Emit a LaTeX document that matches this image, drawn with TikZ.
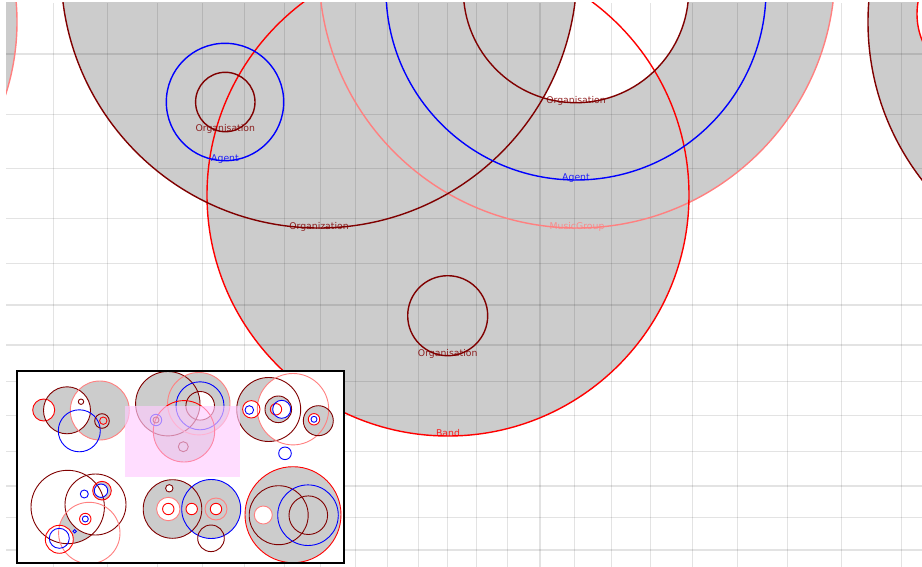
\documentclass[tikz,border=0pt]{standalone}
\usepackage{fontspec}
\setmainfont{DejaVu Sans}
\definecolor{dred}{RGB}{128,0,0}
\definecolor{pinkc}{RGB}{255,128,128}
\definecolor{redc}{RGB}{255,0,0}
\definecolor{bluec}{RGB}{0,0,255}
\definecolor{fillg}{RGB}{204,204,204}
\definecolor{viewc}{RGB}{255,204,255}
\tikzset{
  mline/.style={line width=1.4pt},
  iline/.style={line width=0.9pt},
  gridline/.style={draw=black, draw opacity=0.11, line width=1.3pt},
  lbl/.style={anchor=base, inner sep=0pt, font=\fontsize{9.3}{10}\selectfont, text opacity=0.85},
}
\begin{document}
\begin{tikzpicture}[x=1pt,y=-1pt]
\useasboundingbox (0,0) rectangle (922,567);
% ---------------- main view ----------------
\begin{scope}
\clip (6,3) rectangle (922,567);
% fills
\fill[fillg] (-219,22) circle[radius=236pt];
\fill[fillg] (577,-30) circle[radius=258pt];
\fill[fillg] (448,195) circle[radius=241pt];
\fill[white] (576,-10) circle[radius=112.7pt];
\fill[fillg] (319,-30) circle[radius=258pt];
\fill[fillg] (1126,22) circle[radius=258pt];
\fill[white] (987,14) circle[radius=70pt];
% grid
\foreach \gx in {53.3,107.3,157.3,202.7,244.5,284.2,320.7,355.3,387.3,418.3,447.5,476.7,507.5,540,574.5,611.7,650.5,692.3,737.5,787.3,841.6,901.5}
  \draw[gridline] (\gx,3) -- (\gx,567);
\foreach \gy in {54,114.3,168.3,218.3,263.3,305,345,381.7,415.7,451.6,486.1,517.6,549.9}
  \draw[gridline] (6,\gy) -- (922,\gy);
% strokes
\draw[mline, pinkc] (-219,22) circle[radius=236pt];
\draw[mline, pinkc] (577,-30) circle[radius=258pt];
\draw[mline, redc] (448,195) circle[radius=241pt];
\draw[mline, dred] (319,-30) circle[radius=258pt];
\draw[mline, bluec] (576,-10) circle[radius=190pt];
\draw[mline, dred] (576,-10) circle[radius=112.7pt];
\draw[mline, dred] (447.7,315.7) circle[radius=40pt];
\draw[mline, bluec] (225,102) circle[radius=58.7pt];
\draw[mline, dred] (225.3,102) circle[radius=29.7pt];
\draw[mline, dred] (1126,22) circle[radius=258pt];
\draw[mline, redc] (987,14) circle[radius=70pt];
% labels
\node[lbl, text=dred] (lorgA) at (225.3,132) {Organisation};
\node[lbl, text=bluec] (lagA) at (225,161.5) {Agent};
\node[lbl, text=dred] (lorg1) at (319,229.5) {Organization};
\node[lbl, text=dred] (lorgB) at (576,104) {Organisation};
\node[lbl, text=bluec] (lagB) at (576,181) {Agent};
\node[lbl, text=pinkc] (lmg) at (577,229.5) {MusicGroup};
\node[lbl, text=dred] (lorgC) at (447.7,356) {Organisation};
\node[lbl, text=redc] (lband) at (448,436.5) {Band};
\end{scope}
% ---------------- inset ----------------
\fill[white] (17,371) rectangle (344,562.5);
\begin{scope}
\clip (17,371) rectangle (344,562.5);
% cluster 1
\fill[fillg, even odd rule] (43.7,410) circle[radius=11pt] (67,410.3) circle[radius=23.5pt] (99.8,410.5) circle[radius=29.5pt];
\draw[iline, redc] (43.7,410) circle[radius=11pt];
\draw[iline, dred] (67,410.3) circle[radius=23.5pt];
\draw[iline, pinkc] (99.8,410.5) circle[radius=29.5pt];
\draw[iline, bluec] (79.3,430.8) circle[radius=21pt];
\draw[iline, dred] (81,401.7) circle[radius=2.7pt];
\draw[iline, dred] (102,421) circle[radius=7.3pt];
\draw[iline, redc] (103.3,420.7) circle[radius=3.7pt];
% cluster 2
\fill[fillg] (198.8,403.7) circle[radius=31.2pt];
\fill[fillg] (184,431.3) circle[radius=30.7pt];
\fill[white] (200.2,405.8) circle[radius=14.3pt];
\fill[fillg] (167.8,403.7) circle[radius=32.2pt];
\draw[iline, dred] (167.8,403.7) circle[radius=32.2pt];
\draw[iline, pinkc] (198.8,403.7) circle[radius=31.2pt];
\draw[iline, bluec] (200,405.8) circle[radius=24pt];
\draw[iline, dred] (200.2,405.8) circle[radius=14.3pt];
\draw[iline, redc] (184,431.3) circle[radius=30.7pt];
\draw[iline, dred] (183.3,446.7) circle[radius=5pt];
\draw[iline, bluec] (156,420) circle[radius=5.7pt];
\draw[iline, dred] (156,420) circle[radius=3pt];
% cluster 3
\fill[fillg] (268.7,409.5) circle[radius=32pt];
\fill[white] (293,409.2) circle[radius=35.7pt];
\fill[white] (251.3,409.3) circle[radius=8.7pt];
\fill[fillg] (278.3,409.3) circle[radius=13.3pt];
\fill[white] (281.7,409.3) circle[radius=9pt];
\fill[fillg] (318.3,420.7) circle[radius=15pt];
\fill[white] (314,419.3) circle[radius=5.7pt];
\draw[iline, dred] (268.7,409.5) circle[radius=32pt];
\draw[iline, pinkc] (293,409.2) circle[radius=35.7pt];
\draw[iline, redc] (251.3,409.3) circle[radius=8.7pt];
\draw[iline, bluec] (249.3,410) circle[radius=4.3pt];
\draw[iline, dred] (278.3,409.3) circle[radius=13.3pt];
\draw[iline, redc] (276,409.3) circle[radius=5.7pt];
\draw[iline, bluec] (281.7,409.3) circle[radius=9pt];
\draw[iline, dred] (318.3,420.7) circle[radius=15pt];
\draw[iline, redc] (314,419.3) circle[radius=5.7pt];
\draw[iline, bluec] (314,419.3) circle[radius=3pt];
\draw[iline, bluec] (285,453.3) circle[radius=6.3pt];
% cluster 4
\begin{scope}
\clip (67.7,507) circle[radius=36.7pt];
\fill[fillg] (89.3,533) circle[radius=30.7pt];
\end{scope}
\fill[white] (95.5,504.5) circle[radius=30.5pt];
\fill[white] (59.3,539.3) circle[radius=14pt];
\fill[fillg] (102,490.7) circle[radius=9.3pt];
\fill[white] (101,490.7) circle[radius=6.7pt];
\draw[iline, dred] (67.7,507) circle[radius=36.7pt];
\draw[iline, dred] (95.5,504.5) circle[radius=30.5pt];
\draw[iline, pinkc] (89.3,533) circle[radius=30.7pt];
\draw[iline, bluec] (84.3,494) circle[radius=4pt];
\draw[iline, redc] (102,490.7) circle[radius=9.3pt];
\draw[iline, bluec] (101,490.7) circle[radius=6.7pt];
\draw[iline, redc] (85.3,519) circle[radius=5.7pt];
\draw[iline, bluec] (85.3,519) circle[radius=3pt];
\draw[iline, redc] (59.3,539.3) circle[radius=14pt];
\draw[iline, bluec] (59.3,538.3) circle[radius=10pt];
\draw[iline, bluec] (74.7,531.3) circle[radius=1.7pt];
% cluster 5
\fill[fillg] (172.5,509) circle[radius=29.3pt];
\fill[fillg] (211.2,509) circle[radius=29.5pt];
\fill[white] (168.3,509) circle[radius=11.7pt];
\fill[white] (191.7,509) circle[radius=5.7pt];
\fill[white] (216,509) circle[radius=5.7pt];
\fill[white] (169.3,488.3) circle[radius=3.7pt];
\draw[iline, dred] (172.5,509) circle[radius=29.3pt];
\draw[iline, bluec] (211.2,509) circle[radius=29.5pt];
\draw[iline, dred] (169.3,488.3) circle[radius=3.7pt];
\draw[iline, pinkc] (168.3,509) circle[radius=11.7pt];
\draw[iline, redc] (168.3,509) circle[radius=5.7pt];
\draw[iline, redc] (191.7,509) circle[radius=5.7pt];
\draw[iline, pinkc] (216,509) circle[radius=11pt];
\draw[iline, redc] (216,509) circle[radius=5.7pt];
\draw[iline, dred] (211,538.3) circle[radius=13.3pt];
% cluster 6
\fill[fillg] (293,514.7) circle[radius=48pt];
\fill[white] (263.3,515) circle[radius=9pt];
\draw[iline, redc] (293,514.7) circle[radius=48pt];
\draw[iline, dred] (278.7,515.2) circle[radius=29.5pt];
\draw[iline, bluec] (308,515.2) circle[radius=30.3pt];
\draw[iline, dred] (308.3,515.2) circle[radius=19.3pt];
\draw[iline, pinkc] (263.3,515) circle[radius=9pt];
% viewport
\fill[viewc, opacity=0.65] (125,406) rectangle (239.5,476.7);
\end{scope}
\draw[black, line width=2pt] (17,371) rectangle (344,562.5);
\end{tikzpicture}
\end{document}
